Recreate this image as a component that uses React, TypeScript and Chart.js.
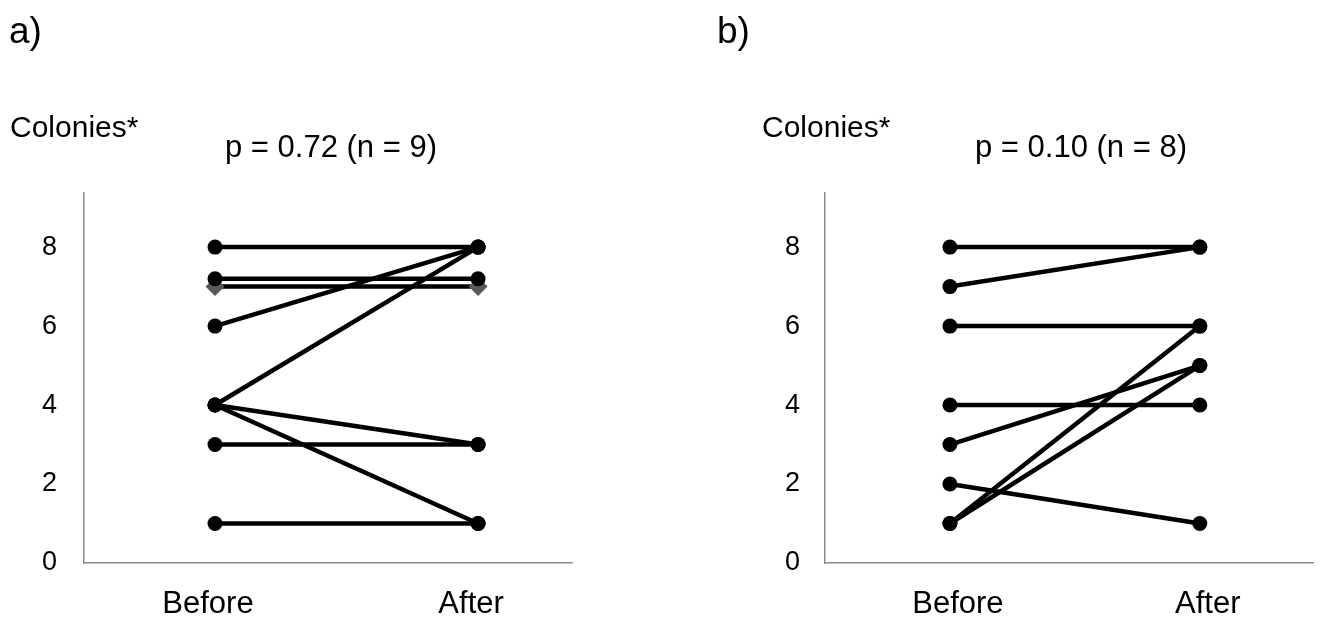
import React, { useEffect, useRef } from 'react';
import { Chart, registerables } from 'chart.js';

Chart.register(...registerables);

const categories = ['Before', 'After'];
const yTickValues = [0, 2, 4, 6, 8];

// Panel a)
const beforeA = [8, 7.2, 7, 6, 4, 4, 4, 3, 1];
const afterA = [8, 7.2, 7, 8, 8, 3, 1, 3, 1];
const diamondIndexA = 2;

// Panel b)
const beforeB = [8, 7, 6, 4, 3, 2, 1, 1];
const afterB = [8, 8, 6, 4, 5, 1, 6, 5];

const FONT = '"Liberation Sans", Arial, Helvetica, sans-serif';

type PanelProps = {
  before: number[];
  after: number[];
  diamondIndex: number;
  canvasLeft: number;
  canvasWidth: number;
  axisLeft: number;
  axisRight: number;
  xMin: number;
  xMax: number;
  yLabelPad: number;
  labelOffset: number;
};

const H = 617;
const AXIS_TOP = 193;
const AXIS_BOTTOM = 563;

function Panel(p: PanelProps) {
  const ref = useRef<HTMLCanvasElement | null>(null);
  useEffect(() => {
    if (!ref.current) return;
    const datasets = p.before.map((b, i) => {
      const diamond = i === p.diamondIndex;
      return {
        data: [
          { x: 0, y: b },
          { x: 1, y: p.after[i] },
        ],
        borderColor: '#000',
        borderWidth: 4.5,
        pointRadius: diamond ? 9.5 : 7.5,
        pointBackgroundColor: diamond ? '#595959' : '#000',
        pointBorderColor: diamond ? '#595959' : '#000',
        pointBorderWidth: 0,
        pointStyle: diamond ? 'rectRot' : 'circle',
        tension: 0,
      };
    });
    const chart = new Chart(ref.current, {
      type: 'line',
      data: { datasets: datasets as any },
      options: {
        animation: false,
        responsive: false,
        maintainAspectRatio: false,
        devicePixelRatio: 1,
        layout: {
          padding: {
            top: AXIS_TOP,
            right: p.canvasWidth - p.axisRight,
            left: 0,
            bottom: 0,
          },
        },
        plugins: {
          legend: { display: false },
          tooltip: { enabled: false },
          title: { display: false },
        },
        scales: {
          x: {
            type: 'linear',
            min: p.xMin,
            max: p.xMax,
            grid: { display: false, drawTicks: false },
            border: { display: true, color: '#8c8c8c', width: 1.5 },
            afterBuildTicks: (s: any) => {
              s.ticks = categories.map((_, i) => ({ value: i }));
            },
            afterFit: (s: any) => {
              s.height = H - AXIS_BOTTOM;
            },
            ticks: {
              autoSkip: false,
              maxRotation: 0,
              padding: 23,
              labelOffset: p.labelOffset,
              color: '#000',
              font: { family: FONT, size: 31 },
              callback: (v: any) => categories[Math.round(Number(v))] ?? '',
            },
          },
          y: {
            type: 'linear',
            min: 0,
            max: 9.37,
            grid: { display: false, drawTicks: false },
            border: { display: true, color: '#8c8c8c', width: 1.5 },
            afterBuildTicks: (s: any) => {
              s.ticks = yTickValues.map((v) => ({ value: v }));
            },
            afterFit: (s: any) => {
              s.width = p.axisLeft;
            },
            ticks: {
              padding: p.yLabelPad,
              color: '#000',
              font: { family: FONT, size: 27 },
              callback: (v: any) => String(v),
            },
          },
        },
      } as any,
    });
    return () => chart.destroy();
  }, []);
  return (
    <canvas
      ref={ref}
      width={p.canvasWidth}
      height={H}
      style={{
        position: 'absolute',
        left: p.canvasLeft,
        top: 0,
        width: p.canvasWidth,
        height: H,
      }}
    />
  );
}

const textStyle = (left: number, top: number, size: number, center = false): React.CSSProperties => ({
  position: 'absolute',
  left,
  top,
  fontFamily: FONT,
  fontSize: size,
  lineHeight: 1,
  color: '#000',
  whiteSpace: 'nowrap',
  transform: center ? 'translateX(-50%)' : undefined,
});

export default function App() {
  return (
    <div
      style={{
        position: 'absolute',
        left: 0,
        top: 0,
        width: 1323,
        height: H,
        background: '#fff',
        overflow: 'hidden',
      }}
    >
      <Panel
        before={beforeA}
        after={afterA}
        diamondIndex={diamondIndexA}
        canvasLeft={0}
        canvasWidth={660}
        axisLeft={84}
        axisRight={572}
        xMin={-0.498}
        xMax={1.357}
        yLabelPad={27}
        labelOffset={-7}
      />
      <Panel
        before={beforeB}
        after={afterB}
        diamondIndex={-1}
        canvasLeft={660}
        canvasWidth={663}
        axisLeft={165}
        axisRight={653}
        xMin={-0.5}
        xMax={1.453}
        yLabelPad={25}
        labelOffset={8}
      />
      <div style={textStyle(9, 12, 37)}>a)</div>
      <div style={textStyle(717, 12, 37)}>b)</div>
      <div style={textStyle(10, 112, 30)}>Colonies*</div>
      <div style={textStyle(762, 112, 30)}>Colonies*</div>
      <div style={textStyle(331, 131, 31, true)}>p = 0.72 (n = 9)</div>
      <div style={textStyle(1081, 131, 31, true)}>p = 0.10 (n = 8)</div>
    </div>
  );
}
